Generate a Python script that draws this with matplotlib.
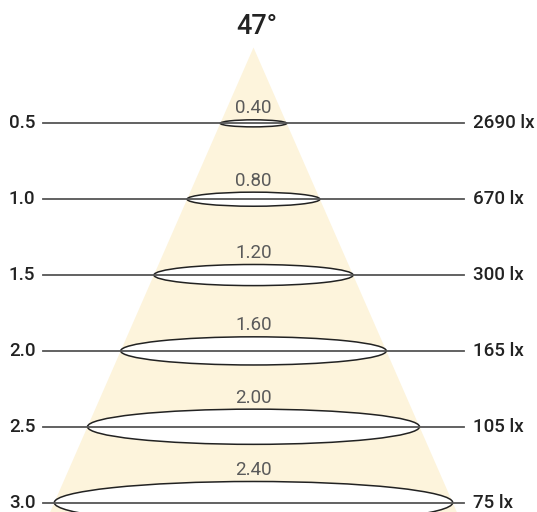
import matplotlib.pyplot as plt
from matplotlib.patches import Ellipse, Polygon

plt.rcParams['font.family'] = ['Roboto', 'DejaVu Sans']

# Beam data
beam_angle = '47°'
distances = [0.5, 1.0, 1.5, 2.0, 2.5, 3.0]          # m
diameters = [0.40, 0.80, 1.20, 1.60, 2.00, 2.40]    # m
lux = [2690, 670, 300, 165, 105, 75]                # lx

W, H = 537, 512
fig = plt.figure(figsize=(W / 100, H / 100), dpi=100)
ax = fig.add_axes([0, 0, 1, 1])

# pixel scale of the drawing
sx, sy = 166.0, 151.7     # px per metre (horizontal / vertical)
cx, cy = 253.5, 47.5      # apex position in pixels
ax.set_xlim(-cx / sx, (W - cx) / sx)
ax.set_ylim((H - cy) / sy, -cy / sy)
ax.axis('off')

def px_x(p):
    return (p - cx) / sx

def px_y(p):
    return (p - cy) / sy

# light cone
slope = diameters[-1] / 2 / distances[-1]
d_end = px_y(H) + 0.05
cone = Polygon([(0, 0), (-slope * d_end, d_end), (slope * d_end, d_end)],
               closed=True, facecolor='#fdf4dc', edgecolor='none', zorder=1)
ax.add_patch(cone)

ax.text(px_x(257), px_y(27), beam_angle, ha='center', va='center',
        fontsize=19.5, fontweight='medium', color='#222222')

for d, dia, lx in zip(distances, diameters, lux):
    eh = 0.116 * dia
    ax.add_patch(Ellipse((0, d), dia, eh, facecolor='white',
                         edgecolor='#222222', lw=1.1, zorder=2))
    ax.plot([px_x(43), px_x(464)], [d, d], color='#555555', lw=1.3, zorder=3)
    ax.text(0, d - eh / 2 - 11.5 / sy, f'{dia:.2f}', ha='center', va='center',
            fontsize=13.5, fontweight='normal', color='#5a5a5a', zorder=4)
    ax.text(px_x(9), d, f'{d:.1f}', ha='left', va='center',
            fontsize=13.5, fontweight='medium', color='#222222')
    ax.text(px_x(473), d, f'{lx} lx', ha='left', va='center',
            fontsize=13.5, fontweight='medium', color='#222222')

fig.savefig('out.png', dpi=100)
